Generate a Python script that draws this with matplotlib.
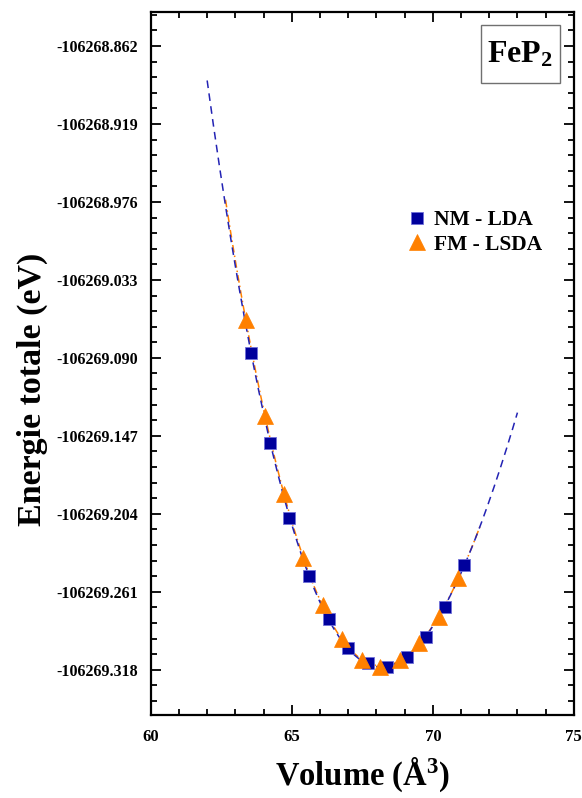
import matplotlib
matplotlib.use('Agg')
import matplotlib.pyplot as plt
import numpy as np
from matplotlib.patches import Rectangle
from matplotlib.ticker import MultipleLocator, FixedLocator, FuncFormatter

plt.rcParams['font.family'] = ['Liberation Serif', 'DejaVu Serif']
plt.rcParams['font.weight'] = 'bold'
plt.rcParams['mathtext.fontset'] = 'custom'
plt.rcParams['mathtext.rm'] = 'Liberation Serif:bold'
plt.rcParams['mathtext.it'] = 'Liberation Serif:bold'
plt.rcParams['mathtext.bf'] = 'Liberation Serif:bold'

# volume (A^3) and total energy (eV)
v_nm = [63.57, 64.23, 64.90, 65.62, 66.32, 67.00, 67.71, 68.38, 69.07, 69.75, 70.43, 71.11]
e_nm = [-106269.0866, -106269.1521, -106269.2069, -106269.2491, -106269.2810, -106269.3022,
        -106269.3131, -106269.3156, -106269.3087, -106269.2941, -106269.2718, -106269.2413]

v_fm = [63.37, 64.05, 64.72, 65.41, 66.09, 66.79, 67.48, 68.13, 68.84, 69.51, 70.23, 70.90]
e_fm = [-106269.0622, -106269.1324, -106269.1894, -106269.2364, -106269.2705, -106269.2954,
        -106269.3107, -106269.3156, -106269.3107, -106269.2985, -106269.2795, -106269.2510]

# range of the fitted curves
fit_nm_range = (62.0, 73.0)
fit_fm_range = (62.65, 71.7)

yticks = [-106268.862, -106268.919, -106268.976, -106269.033, -106269.090,
          -106269.147, -106269.204, -106269.261, -106269.318]

blue = '#00009c'
orange = '#ff8000'

fig = plt.figure(figsize=(5.82, 7.98), dpi=100)
ax = fig.add_axes([0.259, 0.104, 0.727, 0.8813])


def fit_curve(v, e, vr, deg=3):
    e0 = e[0]
    p = np.polyfit(v, np.array(e) - e0, deg)
    vv = np.linspace(vr[0], vr[1], 200)
    return vv, np.polyval(p, vv) + e0


vv, ee = fit_curve(v_nm, e_nm, fit_nm_range)
ax.plot(vv, ee, color='#2323b4', lw=1.1, ls=(0, (5, 3.5)), zorder=2)
vv, ee = fit_curve(v_fm, e_fm, fit_fm_range)
ax.plot(vv, ee, color=orange, lw=1.1, ls=(0, (5, 2, 1, 2)), zorder=1)

ax.plot(v_nm, e_nm, 's', color=blue, ms=8.8, mec='#7070d8', mew=0.6,
        label='NM - LDA', zorder=3)
ax.plot(v_fm, e_fm, '^', color=orange, ms=11, mec=orange, mew=0.5,
        label='FM - LSDA', zorder=4)

ax.set_xlim(60, 75)
ax.set_ylim(-106269.351, -106268.837)
ax.xaxis.set_major_locator(MultipleLocator(5))
ax.xaxis.set_minor_locator(MultipleLocator(1))
ax.yaxis.set_major_locator(FixedLocator(yticks))
ax.yaxis.set_minor_locator(FixedLocator(
    np.arange(yticks[0] + 0.0114 * 3, -106269.36, -0.0114)))
ax.yaxis.set_major_formatter(FuncFormatter(lambda y, p: '%.3f' % y))

ax.tick_params(which='both', direction='in', top=True, right=True, width=1.3)
ax.tick_params(which='major', length=7)
ax.tick_params(which='minor', length=4)
ax.tick_params(axis='y', labelsize=11.5, pad=9)
ax.tick_params(axis='x', labelsize=12, pad=10)
for s in ax.spines.values():
    s.set_linewidth(1.6)

ax.set_xlabel(r'Volume (Å$^3$)', fontsize=23.5, fontweight='bold', labelpad=8)
ax.set_ylabel('Energie totale (eV)', fontsize=24.5, fontweight='bold')
ax.yaxis.set_label_coords(-0.243, 0.4635)

ax.legend(loc='upper left', bbox_to_anchor=(0.578, 0.733), frameon=False,
          fontsize=15.5, handletextpad=0.3, borderpad=0, labelspacing=0.2,
          handlelength=1.0, numpoints=1)

# compound name in a framed box
ax.add_patch(Rectangle((0.780, 0.8986), 0.187, 0.0825, transform=ax.transAxes,
                       fc='white', ec='#707070', lw=1, zorder=5))
ax.text(0.873, 0.9285, r'FeP$_2$', transform=ax.transAxes, fontsize=23,
        fontweight='bold', ha='center', va='baseline', zorder=6)

fig.savefig('out.png', dpi=100)
